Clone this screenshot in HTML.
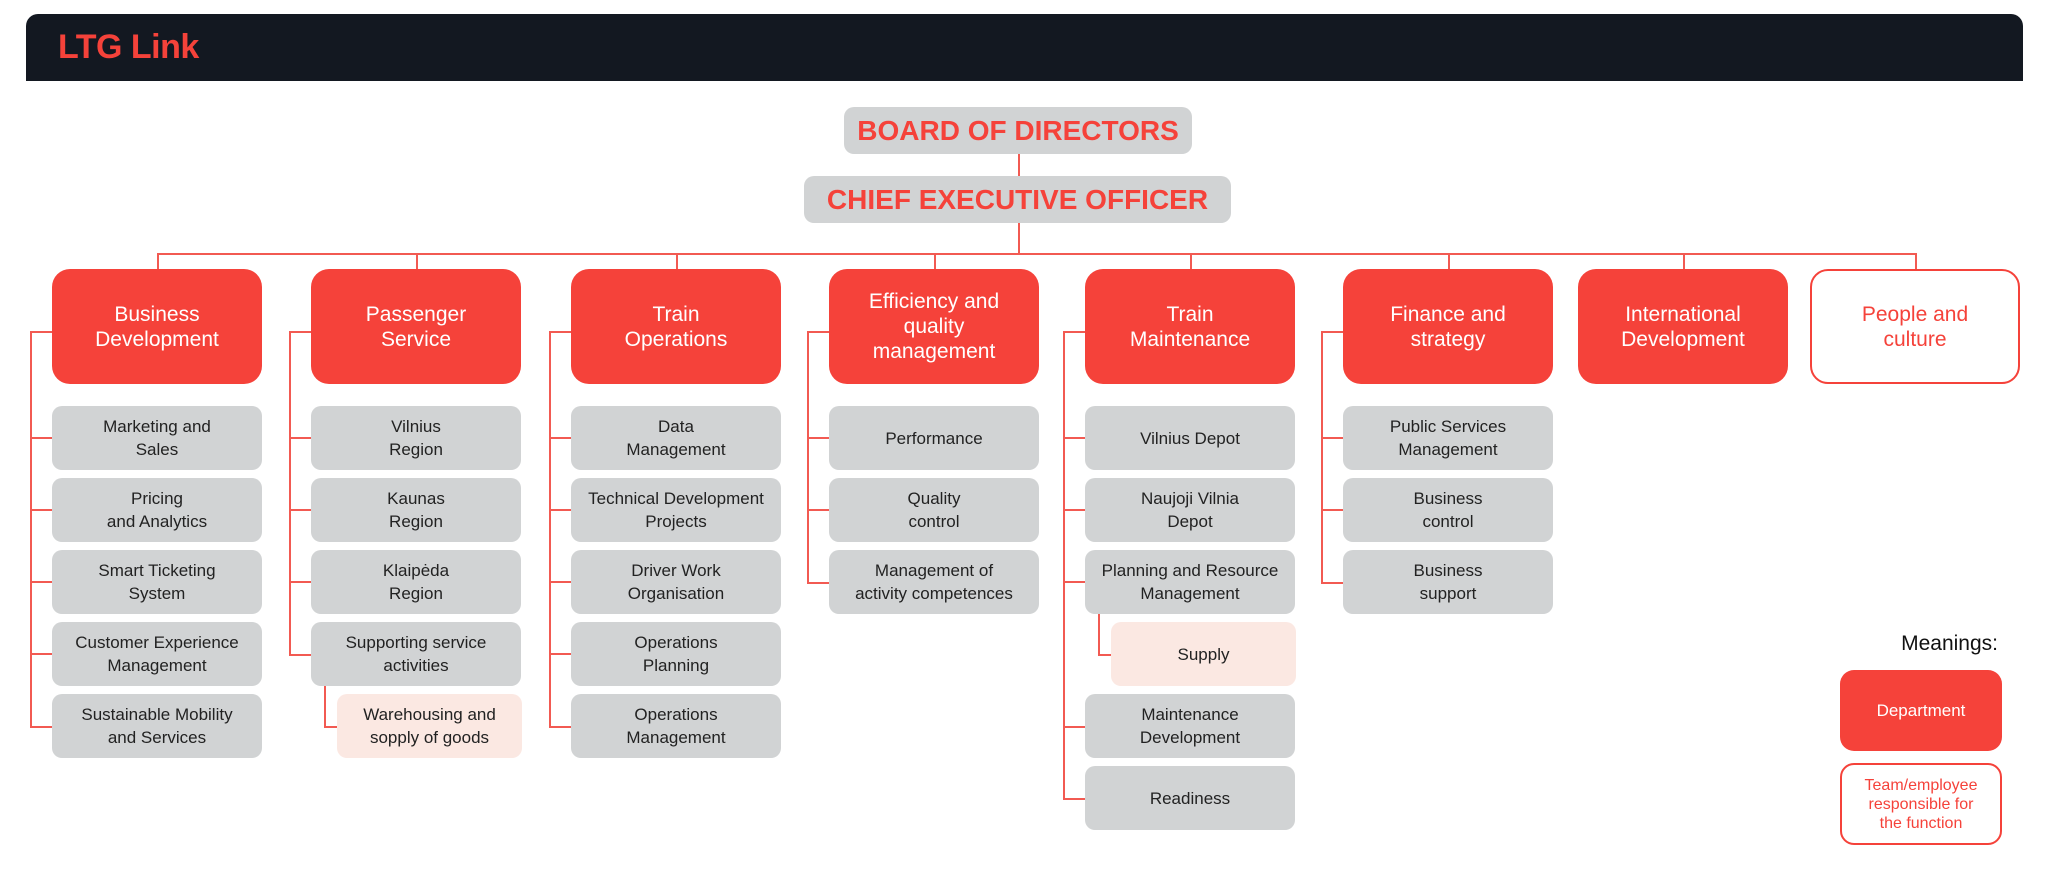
<!DOCTYPE html>
<html><head><meta charset="utf-8"><style>
*{margin:0;padding:0;box-sizing:border-box}
body{width:2048px;height:892px;background:#fff;position:relative;overflow:hidden;font-family:"Liberation Sans",sans-serif}
.hdr{position:absolute;left:26px;top:14px;width:1997px;height:67px;background:#131821;border-radius:12px 12px 0 0}
.hdr span{position:absolute;left:32px;top:14px;color:#f5423a;font-size:34px;font-weight:bold;letter-spacing:-0.5px}
.b{position:absolute;display:flex;align-items:center;justify-content:center;text-align:center}
.top{background:#d1d3d4;color:#f5423a;font-weight:bold;font-size:28px;border-radius:10px}
.d{background:#f5423a;color:#fff;font-size:21px;line-height:25px;border-radius:18px;width:210px;height:115px;top:269px}
.w{background:#fff;border:2px solid #f5423a;color:#f5423a}
.g{background:#d1d3d4;color:#222;font-size:17px;line-height:23px;border-radius:10px;width:210px;height:64px}
.p{background:#fbe8e2}
.l{position:absolute;background:#f25a52}
</style></head><body>
<div class="hdr"><span>LTG Link</span></div>
<div class="b top" style="left:844px;top:107px;width:348px;height:47px">BOARD OF DIRECTORS</div>
<div class="b top" style="left:804px;top:176px;width:427px;height:47px">CHIEF EXECUTIVE OFFICER</div>
<div class="l" style="left:1018px;top:154px;width:2px;height:22px"></div>
<div class="l" style="left:1018px;top:223px;width:2px;height:31px"></div>
<div class="l" style="left:157px;top:253px;width:1760px;height:2px"></div>
<div class="l" style="left:157px;top:253px;width:2px;height:16px"></div>
<div class="l" style="left:416px;top:253px;width:2px;height:16px"></div>
<div class="l" style="left:676px;top:253px;width:2px;height:16px"></div>
<div class="l" style="left:934px;top:253px;width:2px;height:16px"></div>
<div class="l" style="left:1190px;top:253px;width:2px;height:16px"></div>
<div class="l" style="left:1448px;top:253px;width:2px;height:16px"></div>
<div class="l" style="left:1683px;top:253px;width:2px;height:16px"></div>
<div class="l" style="left:1915px;top:253px;width:2px;height:16px"></div>
<div class="b d" style="left:52px">Business<br>Development</div>
<div class="b d" style="left:311px">Passenger<br>Service</div>
<div class="b d" style="left:571px">Train<br>Operations</div>
<div class="b d" style="left:829px">Efficiency and<br>quality<br>management</div>
<div class="b d" style="left:1085px">Train<br>Maintenance</div>
<div class="b d" style="left:1343px">Finance and<br>strategy</div>
<div class="b d" style="left:1578px">International<br>Development</div>
<div class="b d w" style="left:1810px">People and<br>culture</div>
<!-- spines -->
<div class="l" style="left:30px;top:331px;width:2px;height:397px"></div>
<div class="l" style="left:289px;top:331px;width:2px;height:325px"></div>
<div class="l" style="left:549px;top:331px;width:2px;height:397px"></div>
<div class="l" style="left:807px;top:331px;width:2px;height:253px"></div>
<div class="l" style="left:1063px;top:331px;width:2px;height:469px"></div>
<div class="l" style="left:1321px;top:331px;width:2px;height:253px"></div>
<div class="l" style="left:30px;top:331px;width:22px;height:2px"></div>
<div class="l" style="left:289px;top:331px;width:22px;height:2px"></div>
<div class="l" style="left:549px;top:331px;width:22px;height:2px"></div>
<div class="l" style="left:807px;top:331px;width:22px;height:2px"></div>
<div class="l" style="left:1063px;top:331px;width:22px;height:2px"></div>
<div class="l" style="left:1321px;top:331px;width:22px;height:2px"></div>
<!-- col1 -->
<div class="l" style="left:30px;top:437px;width:22px;height:2px"></div>
<div class="l" style="left:30px;top:509px;width:22px;height:2px"></div>
<div class="l" style="left:30px;top:581px;width:22px;height:2px"></div>
<div class="l" style="left:30px;top:653px;width:22px;height:2px"></div>
<div class="l" style="left:30px;top:726px;width:22px;height:2px"></div>
<!-- col2 -->
<div class="l" style="left:289px;top:437px;width:22px;height:2px"></div>
<div class="l" style="left:289px;top:509px;width:22px;height:2px"></div>
<div class="l" style="left:289px;top:581px;width:22px;height:2px"></div>
<div class="l" style="left:289px;top:654px;width:22px;height:2px"></div>
<div class="l" style="left:324px;top:686px;width:2px;height:42px"></div>
<div class="l" style="left:324px;top:726px;width:13px;height:2px"></div>
<!-- col3 -->
<div class="l" style="left:549px;top:437px;width:22px;height:2px"></div>
<div class="l" style="left:549px;top:509px;width:22px;height:2px"></div>
<div class="l" style="left:549px;top:581px;width:22px;height:2px"></div>
<div class="l" style="left:549px;top:653px;width:22px;height:2px"></div>
<div class="l" style="left:549px;top:726px;width:22px;height:2px"></div>
<!-- col4 -->
<div class="l" style="left:807px;top:437px;width:22px;height:2px"></div>
<div class="l" style="left:807px;top:509px;width:22px;height:2px"></div>
<div class="l" style="left:807px;top:582px;width:22px;height:2px"></div>
<!-- col5 -->
<div class="l" style="left:1063px;top:437px;width:22px;height:2px"></div>
<div class="l" style="left:1063px;top:509px;width:22px;height:2px"></div>
<div class="l" style="left:1063px;top:581px;width:22px;height:2px"></div>
<div class="l" style="left:1098px;top:614px;width:2px;height:42px"></div>
<div class="l" style="left:1098px;top:654px;width:13px;height:2px"></div>
<div class="l" style="left:1063px;top:726px;width:22px;height:2px"></div>
<div class="l" style="left:1063px;top:798px;width:22px;height:2px"></div>
<!-- col6 -->
<div class="l" style="left:1321px;top:437px;width:22px;height:2px"></div>
<div class="l" style="left:1321px;top:509px;width:22px;height:2px"></div>
<div class="l" style="left:1321px;top:582px;width:22px;height:2px"></div>
<!-- boxes col1 -->
<div class="b g" style="left:52px;top:406px">Marketing and<br>Sales</div>
<div class="b g" style="left:52px;top:478px">Pricing<br>and Analytics</div>
<div class="b g" style="left:52px;top:550px">Smart Ticketing<br>System</div>
<div class="b g" style="left:52px;top:622px">Customer Experience<br>Management</div>
<div class="b g" style="left:52px;top:694px">Sustainable Mobility<br>and Services</div>
<!-- col2 -->
<div class="b g" style="left:311px;top:406px">Vilnius<br>Region</div>
<div class="b g" style="left:311px;top:478px">Kaunas<br>Region</div>
<div class="b g" style="left:311px;top:550px">Klaipėda<br>Region</div>
<div class="b g" style="left:311px;top:622px">Supporting service<br>activities</div>
<div class="b g p" style="left:337px;top:694px;width:185px">Warehousing and<br>sopply of goods</div>
<!-- col3 -->
<div class="b g" style="left:571px;top:406px">Data<br>Management</div>
<div class="b g" style="left:571px;top:478px">Technical Development<br>Projects</div>
<div class="b g" style="left:571px;top:550px">Driver Work<br>Organisation</div>
<div class="b g" style="left:571px;top:622px">Operations<br>Planning</div>
<div class="b g" style="left:571px;top:694px">Operations<br>Management</div>
<!-- col4 -->
<div class="b g" style="left:829px;top:406px">Performance</div>
<div class="b g" style="left:829px;top:478px">Quality<br>control</div>
<div class="b g" style="left:829px;top:550px">Management of<br>activity competences</div>
<!-- col5 -->
<div class="b g" style="left:1085px;top:406px">Vilnius Depot</div>
<div class="b g" style="left:1085px;top:478px">Naujoji Vilnia<br>Depot</div>
<div class="b g" style="left:1085px;top:550px">Planning and Resource<br>Management</div>
<div class="b g p" style="left:1111px;top:622px;width:185px">Supply</div>
<div class="b g" style="left:1085px;top:694px">Maintenance<br>Development</div>
<div class="b g" style="left:1085px;top:766px">Readiness</div>
<!-- col6 -->
<div class="b g" style="left:1343px;top:406px">Public Services<br>Management</div>
<div class="b g" style="left:1343px;top:478px">Business<br>control</div>
<div class="b g" style="left:1343px;top:550px">Business<br>support</div>
<!-- legend -->
<div style="position:absolute;right:50px;top:632px;font-size:21px;color:#111">Meanings:</div>
<div class="b" style="left:1840px;top:670px;width:162px;height:81px;background:#f5423a;color:#fff;font-size:17px;border-radius:14px">Department</div>
<div class="b w" style="left:1840px;top:763px;width:162px;height:82px;font-size:16px;line-height:19px;border-radius:14px">Team/employee<br>responsible for<br>the function</div>
</body></html>
